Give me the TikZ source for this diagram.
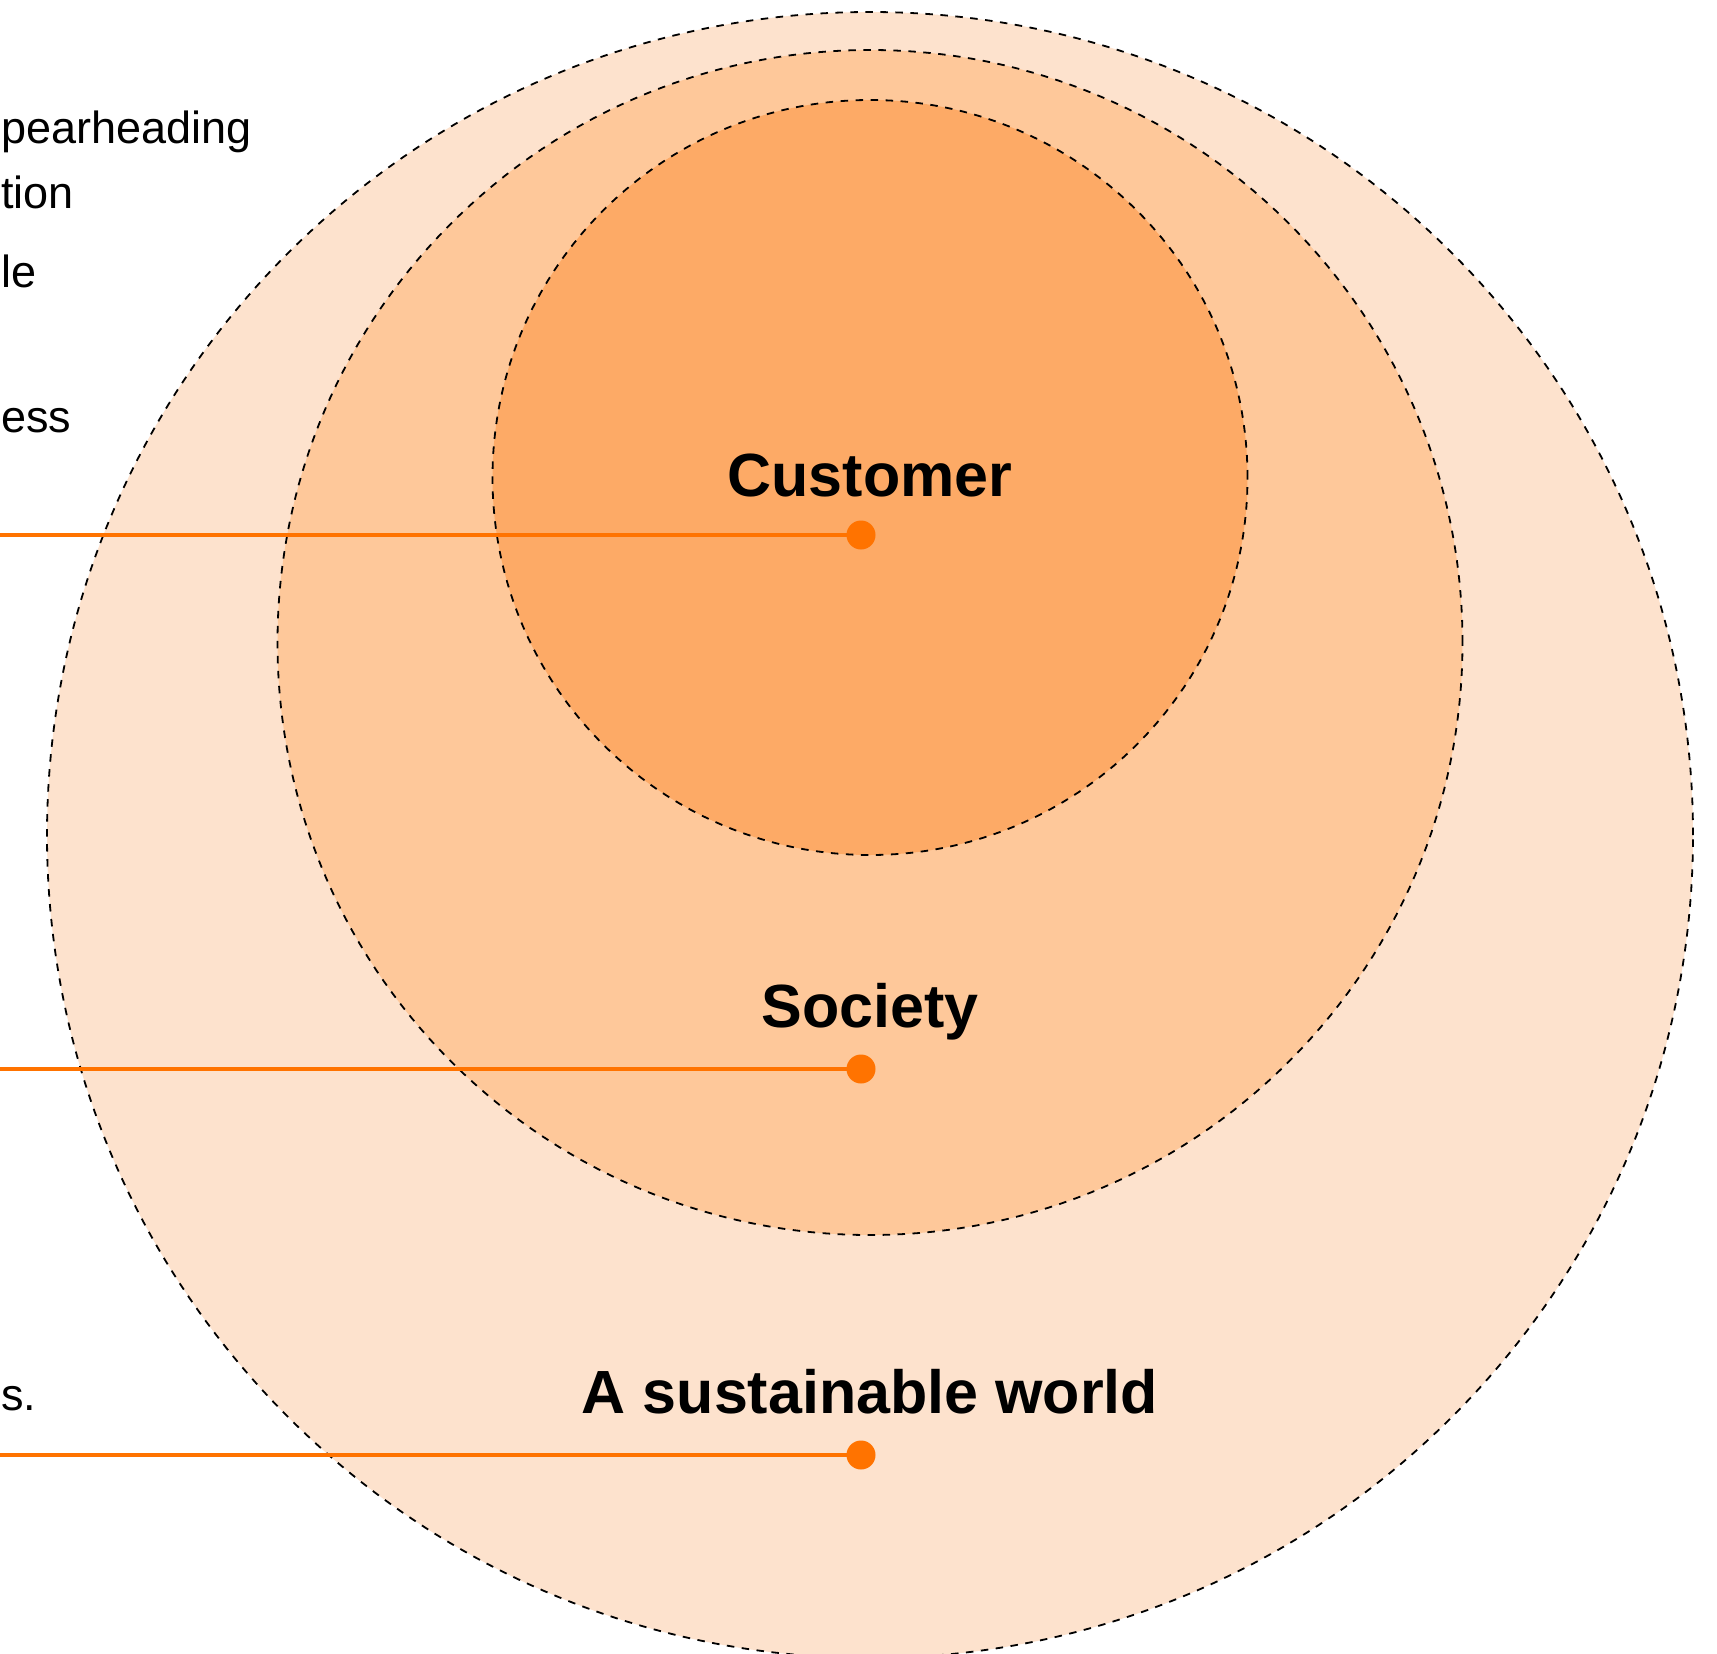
\documentclass[tikz,border=0pt]{standalone}
\usepackage{fontspec}
\setmainfont{Liberation Sans}
\definecolor{ringA}{RGB}{253,226,205}
\definecolor{ringB}{RGB}{254,200,154}
\definecolor{ringC}{RGB}{253,170,102}
\definecolor{accent}{RGB}{255,115,0}
\tikzset{
  ring/.style={draw=black, line width=1.8pt, dash pattern=on 7.5pt off 7.5pt},
  dotnode/.style={circle, fill=accent, draw=none, minimum size=29pt, inner sep=0pt},
  conn/.style={draw=accent, line width=3.3pt},
  lbl/.style={font=\fontsize{61}{70}\selectfont\bfseries, inner sep=0pt, anchor=base},
  side/.style={font=\fontsize{45}{54}\selectfont, inner sep=0pt, anchor=base west},
}
\begin{document}
\begin{tikzpicture}[x=1pt,y=-1pt]
\useasboundingbox (0,0) rectangle (1717,1654);
\clip (0,0) rectangle (1717,1654);
\fill[white] (0,0) rectangle (1717,1654);
% circles
\draw[ring, fill=ringA] (870,835) circle[radius=823pt];
\draw[ring, fill=ringB] (870,642.5) circle[radius=592.5pt];
\draw[ring, fill=ringC] (870,477.5) circle[radius=377.5pt];
% labels
\node[lbl] (customer) at (870,496) {Customer};
\node[lbl] (society) at (870,1027) {Society};
\node[lbl] (world) at (870,1413) {A sustainable world};
% side text fragments
\node[side] (t1) at (1,143) {pearheading};
\node[side] (t2) at (1,208) {tion};
\node[side] (t3) at (1,287) {le};
\node[side] (t4) at (1,432) {ess};
\node[side] (t5) at (1,1410) {s.};
% connectors
\coordinate (l1) at (0,535);
\coordinate (l2) at (0,1069);
\coordinate (l3) at (0,1455);
\node[dotnode] (d1) at (861,535) {};
\node[dotnode] (d2) at (861,1069) {};
\node[dotnode] (d3) at (861,1455) {};
\draw[conn] (l1) -- (d1.center);
\draw[conn] (l2) -- (d2.center);
\draw[conn] (l3) -- (d3.center);
\end{tikzpicture}
\end{document}
